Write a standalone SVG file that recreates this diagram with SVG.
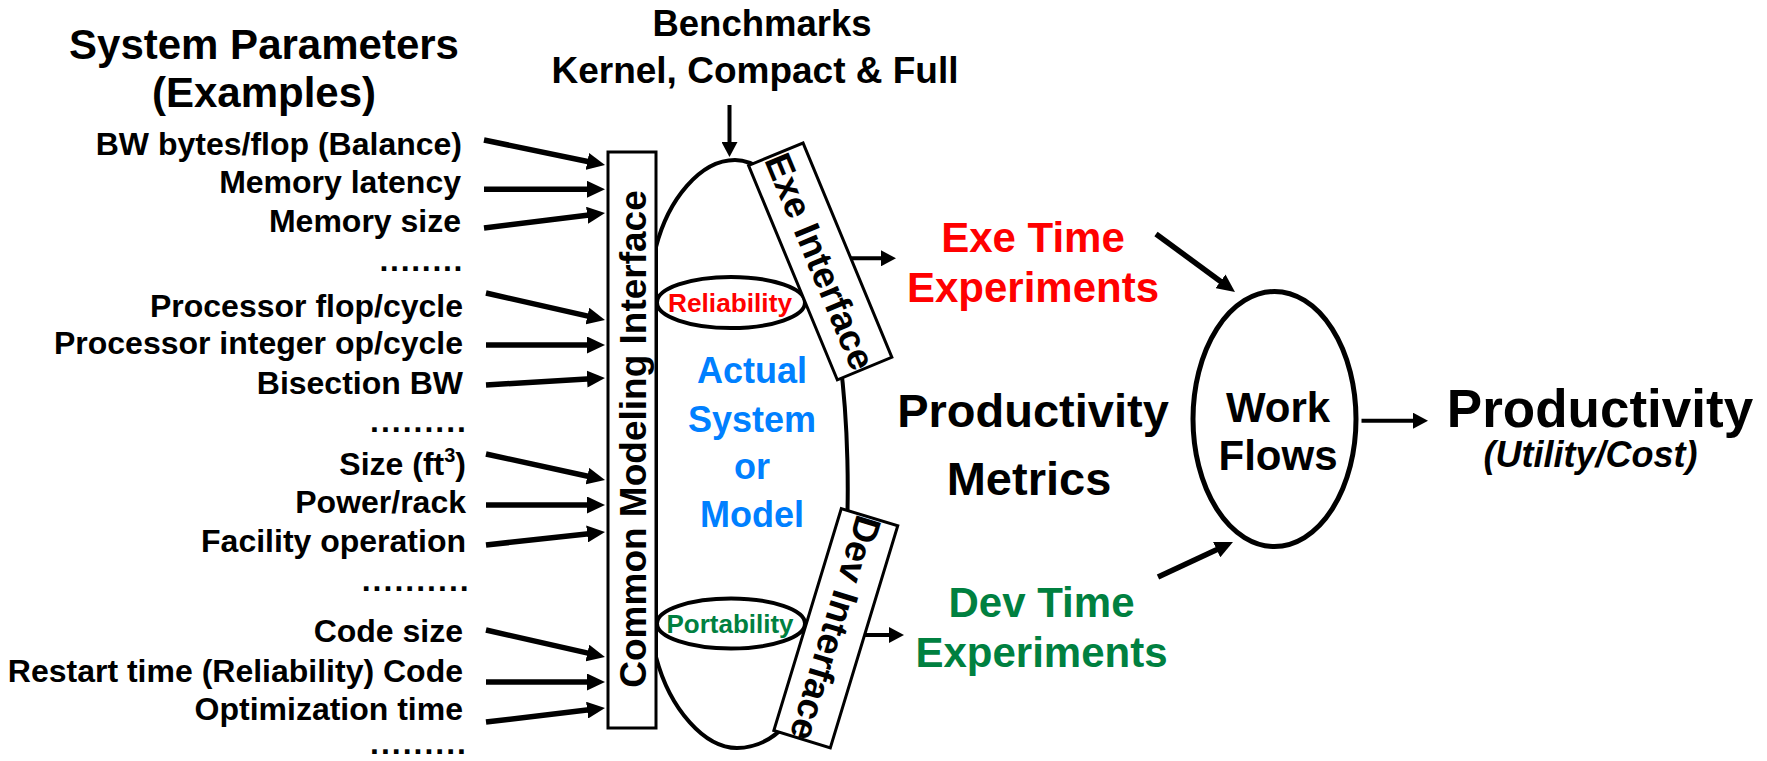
<svg xmlns="http://www.w3.org/2000/svg" width="1767" height="761" viewBox="0 0 1767 761">
<style>
text{font-family:"Liberation Sans",Arial,sans-serif;font-weight:bold;fill:#000}
.lbl{font-size:32px;text-anchor:end}
.dots{font-size:32px}
.c{text-anchor:middle}
.box{fill:#fff;stroke:#000;stroke-width:3}
.shape{fill:#fff;stroke:#000;stroke-width:4}
.el{fill:#fff;stroke:#000;stroke-width:4}
.ar{fill:none;stroke:#000}
</style>
<defs>
<marker id="ahL" markerUnits="userSpaceOnUse" markerWidth="18" markerHeight="17" refX="4" refY="8.5" orient="auto"><path d="M0,0 L18,8.5 L0,17 Z" fill="#000"/></marker>
<marker id="ahM" markerUnits="userSpaceOnUse" markerWidth="15" markerHeight="16" refX="4" refY="8" orient="auto"><path d="M0,0 L15,8 L0,16 Z" fill="#000"/></marker>
</defs>
<rect width="1767" height="761" fill="#fff"/>

<g id="params">
<text class="c" x="264" y="59" font-size="42">System Parameters</text>
<text class="c" x="264" y="107" font-size="42">(Examples)</text>
<text class="lbl" x="462" y="155">BW bytes/flop (Balance)</text>
<text class="lbl" x="461" y="193">Memory latency</text>
<text class="lbl" x="461" y="232">Memory size</text>
<text class="dots" x="379.5" y="270.5" textLength="83">........</text>
<text class="lbl" x="463" y="317">Processor flop/cycle</text>
<text class="lbl" x="463" y="354">Processor integer op/cycle</text>
<text class="lbl" x="463" y="394">Bisection BW</text>
<text class="dots" x="370" y="432" textLength="96">.........</text>
<text class="lbl" x="466" y="475">Size (ft<tspan font-size="20" dy="-13">3</tspan><tspan dy="13">)</tspan></text>
<text class="lbl" x="466" y="513">Power/rack</text>
<text class="lbl" x="466" y="552">Facility operation</text>
<text class="dots" x="361.7" y="591" textLength="107">..........</text>
<text class="lbl" x="463" y="642">Code size</text>
<text class="lbl" x="463" y="682">Restart time (Reliability) Code</text>
<text class="lbl" x="463" y="720">Optimization time</text>
<text class="dots" x="370" y="754" textLength="96">.........</text>
</g>

<g id="benchmarks">
<text class="c" x="762" y="36" font-size="36.5">Benchmarks</text>
<text class="c" x="755" y="83" font-size="37">Kernel, Compact &amp; Full</text>
</g>

<g id="system">
<path class="shape" d="M656,247 C668,200 700,160 735,160 C790,160 830,280 840,360 C848,420 850,500 845,560 C835,650 800,748 737,748 C705,748 670,710 656,657 Z"/>
<ellipse class="el" cx="731" cy="302.5" rx="74" ry="25.5"/>
<text class="c" x="730" y="311.5" font-size="25" style="fill:#ff0000" textLength="124" lengthAdjust="spacingAndGlyphs">Reliability</text>
<ellipse class="el" cx="731" cy="623.5" rx="74" ry="25"/>
<text class="c" x="730" y="632.5" font-size="25" style="fill:#008040" textLength="127" lengthAdjust="spacingAndGlyphs">Portability</text>
<text class="c" x="752" y="383" font-size="36" style="fill:#0080ff">Actual</text>
<text class="c" x="752" y="431.5" font-size="36" style="fill:#0080ff">System</text>
<text class="c" x="752" y="479" font-size="36" style="fill:#0080ff">or</text>
<text class="c" x="752" y="526.5" font-size="36" style="fill:#0080ff">Model</text>
</g>

<g id="cmi">
<rect class="box" x="608" y="152" width="48" height="576"/>
<text class="c" transform="translate(646,439) rotate(-90)" font-size="37">Common Modeling Interface</text>
</g>

<g id="exe-interface" transform="translate(820.2,261.4) rotate(67.5)">
<rect class="box" x="-116" y="-29.5" width="232" height="59"/>
<text class="c" x="0" y="13" font-size="37">Exe Interface</text>
</g>

<g id="dev-interface" transform="translate(835.8,628.2) rotate(106.9)">
<rect class="box" x="-116" y="-29.5" width="232" height="59"/>
<text class="c" x="0" y="13" font-size="37">Dev Interface</text>
</g>

<g id="exe-time">
<text class="c" x="1033" y="251.5" font-size="42" style="fill:#ff0000">Exe Time</text>
<text class="c" x="1033" y="301.5" font-size="42" style="fill:#ff0000">Experiments</text>
</g>

<g id="dev-time">
<text class="c" x="1041.5" y="617" font-size="42" style="fill:#008040">Dev Time</text>
<text class="c" x="1041.5" y="667" font-size="42" style="fill:#008040">Experiments</text>
</g>

<g id="metrics">
<text class="c" x="1033" y="426.5" font-size="47">Productivity</text>
<text class="c" x="1029" y="495" font-size="47">Metrics</text>
</g>

<g id="workflows">
<ellipse cx="1274.5" cy="419" rx="81.5" ry="127.5" fill="#fff" stroke="#000" stroke-width="5"/>
<text class="c" x="1278" y="421.5" font-size="42">Work</text>
<text class="c" x="1278" y="470" font-size="42">Flows</text>
</g>

<g id="productivity">
<text class="c" x="1600" y="426.5" font-size="53">Productivity</text>
<text class="c" x="1590.5" y="466.5" font-size="36" font-style="italic">(Utility/Cost)</text>
</g>

<g id="connectors" class="ar">
<g stroke-width="5.5" marker-end="url(#ahL)">
<path d="M484,140 L591.3,162.2"/>
<path d="M484,189.3 L591,189.3"/>
<path d="M484,228 L591.1,214.7"/>
<path d="M486,293 L591.3,316.9"/>
<path d="M486,345 L591,345"/>
<path d="M486,385 L591,378.8"/>
<path d="M486,454 L591.3,477"/>
<path d="M486,505 L591,505"/>
<path d="M486,545 L591.1,533.5"/>
<path d="M486,630 L591.3,653.9"/>
<path d="M486,682 L591,682"/>
<path d="M486,722 L591.1,709.6"/>
<path d="M1156,234 L1223.7,283.7"/>
<path d="M1158,577 L1220.3,547.9"/>
</g>
<g stroke-width="4" marker-end="url(#ahM)">
<path d="M729.5,105 L729.5,146"/>
<path d="M851,258.3 L885,258.3"/>
<path d="M865,635 L893,635"/>
<path d="M1361.5,420.7 L1417,420.7"/>
</g>
</g>
</svg>
